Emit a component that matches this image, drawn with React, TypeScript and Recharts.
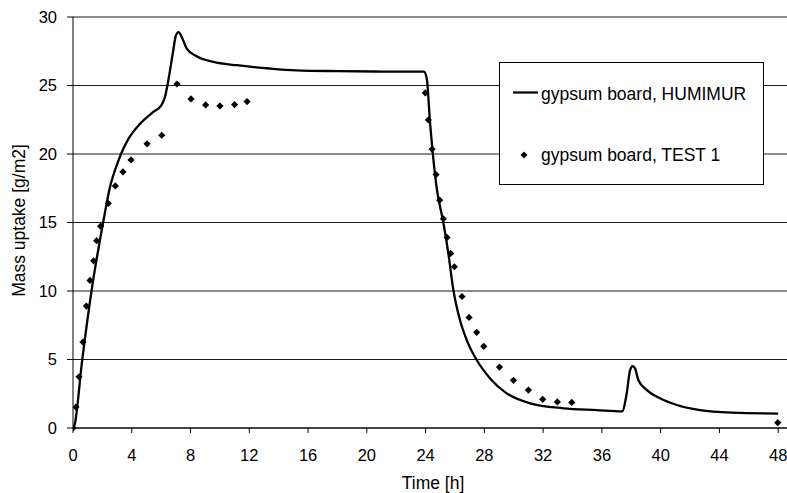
import React from "react";
import {
  ComposedChart,
  Line,
  Scatter,
  XAxis,
  YAxis,
  CartesianGrid,
  Legend,
} from "recharts";

// HUMIMUR simulation curve (time in h, mass uptake in g/m2)
const simTime = [
  0, 0.1, 0.6, 1.27, 2.06, 2.52, 3.0, 3.27, 3.77, 4.56, 5.47, 5.97, 6.26, 6.49,
  6.79, 7.01, 7.19, 7.4, 7.74, 8.42, 9.55, 11.14, 13.41, 15.2, 18, 21, 23.89,
  24.08, 24.3, 24.76, 25.2, 25.55, 25.89, 26.34, 26.8, 27.48, 28.39, 29.52,
  31.11, 33.38, 35.65, 37.38, 37.69, 37.92, 38.1, 38.26, 38.48, 39.06, 39.96,
  41.1, 42.68, 44.95, 48.0,
];
const simMass = [
  0, 0.2, 4.72, 10.07, 15.05, 17.6, 19.25, 20.0, 21.1, 22.2, 23.07, 23.49,
  24.17, 25.38, 27.33, 28.67, 28.9, 28.54, 27.7, 27.13, 26.72, 26.48, 26.24,
  26.11, 26.05, 26.02, 26.02, 25.5, 22.34, 17.48, 15.05, 12.74, 10.07, 7.88,
  6.42, 4.96, 3.62, 2.53, 1.8, 1.44, 1.31, 1.22, 2.53, 4.23, 4.52, 4.35, 3.5,
  2.77, 2.17, 1.68, 1.31, 1.12, 1.05,
];

// TEST 1 measurements
const testTime = [
  0, 0.2, 0.41, 0.68, 0.91, 1.16, 1.41, 1.61, 1.88, 2.4, 2.88, 3.4, 3.95, 5.04,
  6.04, 7.08, 8.03, 9.03, 10.0, 11.0, 11.85, 23.98, 24.19, 24.44, 24.71, 24.96,
  25.21, 25.46, 25.71, 25.96, 26.48, 26.96, 27.48, 27.96, 29.03, 29.98, 31.0,
  31.97, 32.97, 33.95, 47.97,
];
const testMass = [
  0, 1.53, 3.74, 6.27, 8.9, 10.77, 12.2, 13.67, 14.73, 16.39, 17.67, 18.7,
  19.57, 20.74, 21.37, 25.11, 24.02, 23.58, 23.51, 23.61, 23.83, 24.46, 22.49,
  20.35, 18.5, 16.63, 15.27, 13.91, 12.74, 11.77, 9.6, 8.07, 6.98, 5.96, 4.45,
  3.48, 2.77, 2.09, 1.9, 1.87, 0.39,
];

const xTicks = [0, 4, 8, 12, 16, 20, 24, 28, 32, 36, 40, 44, 48];
const yTicks = [0, 5, 10, 15, 20, 25, 30];
const seriesNames = ["gypsum board, HUMIMUR", "gypsum board, TEST 1"];

const simData = simTime.map((t, i) => ({ t, v: simMass[i] }));
const testData = testTime.map((t, i) => ({ t, v: testMass[i] }));

const FONT = "'Liberation Sans', Arial, Helvetica, sans-serif";

const Diamond = (props: any) => {
  const { cx, cy } = props;
  const r = 3.6;
  return (
    <path
      d={`M${cx},${cy - r}L${cx + r},${cy}L${cx},${cy + r}L${cx - r},${cy}Z`}
      fill="#000"
    />
  );
};

const LegendBox = () => (
  <svg width={265} height={123} style={{ display: "block" }}>
    <rect x={0.5} y={0.5} width={264} height={122} fill="#fff" stroke="#000" strokeWidth={1} />
    <line x1={14} y1={30.5} x2={39} y2={30.5} stroke="#000" strokeWidth={2.2} />
    <text x={42} y={37.5} fontSize={17.5} fontFamily={FONT} fill="#000">
      {seriesNames[0]}
    </text>
    <path d="M25,89.5L28.5,93L25,96.5L21.5,93Z" fill="#000" />
    <text x={42} y={98.5} fontSize={17.5} fontFamily={FONT} fill="#000">
      {seriesNames[1]}
    </text>
  </svg>
);

export default function App() {
  return (
    <div
      style={{
        position: "absolute",
        left: 0,
        top: 0,
        width: 787,
        height: 493,
        background: "#fff",
        fontFamily: FONT,
      }}
    >
      <ComposedChart
        width={787}
        height={493}
        margin={{ top: 17, right: 0, bottom: 0, left: 0 }}
      >
        <CartesianGrid horizontal vertical={false} stroke="#1a1a1a" strokeWidth={1} />
        <XAxis
          type="number"
          dataKey="t"
          domain={[0, 48.6]}
          ticks={xTicks}
          allowDataOverflow
          height={65}
          tickSize={5}
          tickMargin={16}
          axisLine={{ stroke: "#000", strokeWidth: 1 }}
          tickLine={{ stroke: "#000" }}
          tick={{ fill: "#000", fontSize: 16.5, fontFamily: FONT }}
          label={{
            value: "Time [h]",
            position: "insideBottom",
            offset: 4,
            dx: 3,
            style: { fill: "#000", fontSize: 17.5, fontFamily: FONT },
          }}
        />
        <YAxis
          type="number"
          dataKey="v"
          domain={[0, 30]}
          ticks={yTicks}
          width={73}
          tickSize={6}
          tickMargin={10}
          axisLine={{ stroke: "#000", strokeWidth: 1 }}
          tickLine={{ stroke: "#000" }}
          tick={{ fill: "#000", fontSize: 16.5, fontFamily: FONT }}
          label={{
            value: "Mass uptake [g/m2]",
            angle: -90,
            position: "insideLeft",
            offset: 18.5,
            dy: -2,
            style: { fill: "#000", fontSize: 17.5, fontFamily: FONT, textAnchor: "middle" },
          }}
        />
        <Line
          data={simData}
          dataKey="v"
          name={seriesNames[0]}
          type="monotoneX"
          stroke="#000"
          strokeWidth={2.3}
          dot={false}
          activeDot={false}
          isAnimationActive={false}
        />
        <Scatter
          data={testData}
          dataKey="v"
          name={seriesNames[1]}
          fill="#000"
          shape={Diamond}
          isAnimationActive={false}
        />
        <Legend
          layout="vertical"
          align="center"
          verticalAlign="middle"
          wrapperStyle={{ left: 499, top: 62, width: 265, height: 123 }}
          content={() => <LegendBox />}
        />
      </ComposedChart>
    </div>
  );
}
